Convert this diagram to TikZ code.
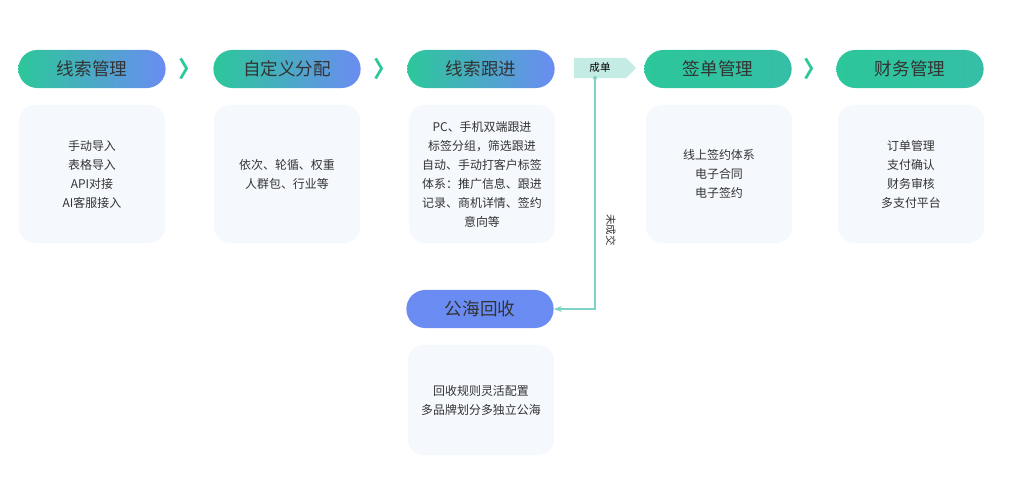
\documentclass[tikz,border=0pt]{standalone}
\usepackage{fontspec}
\setmainfont{Noto Sans CJK SC}
\usetikzlibrary{arrows.meta,shapes.symbols}
\definecolor{tealc}{HTML}{2CC79A}
\definecolor{bluec}{HTML}{6A8CF2}
\definecolor{cardc}{HTML}{F5F8FD}
\definecolor{linec}{HTML}{7FD3C6}
\begin{document}
\begin{tikzpicture}[x=0.025cm,y=-0.025cm,
  pill/.style={rounded corners=0.47cm, minimum width=3.68cm, minimum height=0.95cm, inner sep=0pt, font=\fontsize{12.5}{14}\selectfont, text=black!80},
  greenblue/.style={pill, left color=tealc, right color=bluec},
  greenpill/.style={pill, left color=tealc, right color=tealc!85!bluec},
  bluepill/.style={pill, fill=bluec},
  card/.style={rounded corners=0.4cm, fill=cardc, minimum width=3.65cm, minimum height=3.45cm, align=center, inner sep=2pt, font=\fontsize{8.5}{13.5}\selectfont, text=black!80},
  chev/.style={font=\fontsize{16}{16}\selectfont\bfseries, text=tealc}
]
  \useasboundingbox (0,0) rectangle (1024,485);
  % pills
  \node[greenblue] (xsgl) at (92,69) {线索管理};
  \node[greenblue] (zdyfp) at (287,69) {自定义分配};
  \node[greenblue] (xsgj) at (481,69) {线索跟进};
  \node[greenpill] (qdgl) at (718,69) {签单管理};
  \node[greenpill] (cwgl) at (910,69) {财务管理};
  \node[bluepill] (ghhs) at (480,309) {公海回收};

  % cards
  \node[card] (c1) at (92,174) {手动导入\\表格导入\\API对接\\AI客服接入};
  \node[card] (c2) at (287,174) {依次、轮循、权重\\人群包、行业等};
  \node[card] (c3) at (482,174) {PC、手机双端跟进\\标签分组，筛选跟进\\自动、手动打客户标签\\体系：推广信息、跟进\\记录、商机详情、签约\\意向等};
  \node[card] (c4) at (719,174) {线上签约体系\\电子合同\\电子签约};
  \node[card] (c5) at (911,174) {订单管理\\支付确认\\财务审核\\多支付平台};
  \node[card, minimum height=2.75cm] (c6) at (481,400) {回收规则灵活配置\\多品牌划分多独立公海};

  % chevrons
  \node[chev] (v1) at (190,69) {〉};
  \node[chev] (v2) at (385,69) {〉};
  \node[chev] (v3) at (815,69) {〉};

  % deal tag and return line
  \node[signal, signal to=east, fill=linec!45, minimum width=1.55cm, minimum height=0.5cm, inner sep=1pt, font=\fontsize{7.5}{9}\selectfont] (cd) at (600,68) {成单};
  \coordinate (start) at (595,78);
  \fill[linec] (start) circle (2);
  \draw[linec, thick, -{Stealth[length=2mm]}] (start) |- (ghhs.east);
  \node[rotate=-90, font=\fontsize{7.5}{9}\selectfont, text=black!80] (wcj) at (611,230) {未成交};
\end{tikzpicture}
\end{document}
